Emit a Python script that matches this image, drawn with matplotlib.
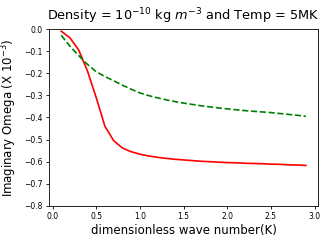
import matplotlib
matplotlib.use("Agg")
import matplotlib.pyplot as plt

k = [0.1, 0.2, 0.3, 0.4, 0.5, 0.6, 0.7, 0.8, 0.9, 1.0,
     1.1, 1.2, 1.3, 1.4, 1.5, 1.6, 1.7, 1.8, 1.9, 2.0,
     2.1, 2.2, 2.3, 2.4, 2.5, 2.6, 2.7, 2.8, 2.9]

red_omega = [-0.01, -0.04, -0.095, -0.19, -0.31, -0.44, -0.505, -0.538, -0.555, -0.566,
             -0.574, -0.580, -0.585, -0.589, -0.592, -0.595, -0.598, -0.600, -0.602, -0.604,
             -0.605, -0.607, -0.608, -0.609, -0.611, -0.612, -0.614, -0.615, -0.617]

green_omega = [-0.028, -0.078, -0.12, -0.16, -0.193, -0.215, -0.234, -0.254, -0.272, -0.289,
               -0.301, -0.311, -0.320, -0.328, -0.335, -0.341, -0.347, -0.352, -0.357, -0.361,
               -0.365, -0.369, -0.372, -0.375, -0.378, -0.382, -0.386, -0.390, -0.395]

fig = plt.figure(figsize=(3.29, 2.4), dpi=100)
ax = fig.add_axes([0.149, 0.142, 0.818, 0.737])
ax.plot(k, red_omega, color='r', lw=1.2)
ax.plot(k, green_omega, color='g', ls='--', lw=1.2)
ax.set_ylim(-0.8, 0.0)
ax.set_xticks([0.0, 0.5, 1.0, 1.5, 2.0, 2.5, 3.0])
ax.set_yticks([0.0, -0.1, -0.2, -0.3, -0.4, -0.5, -0.6, -0.7, -0.8])
ax.tick_params(labelsize=5.5, length=2.5, width=0.6, pad=2)
for s in ax.spines.values():
    s.set_linewidth(0.6)
ax.set_xlabel("dimensionless wave number(K)", fontsize=8.5, labelpad=2)
ax.set_ylabel("Imaginary Omega (X $10^{-3}$)", fontsize=8.5, labelpad=4)
ax.set_title("Density = $10^{-10}$ kg $m^{-3}$ and Temp = 5MK", fontsize=9.3, pad=6)
fig.savefig("out.png", dpi=100)
